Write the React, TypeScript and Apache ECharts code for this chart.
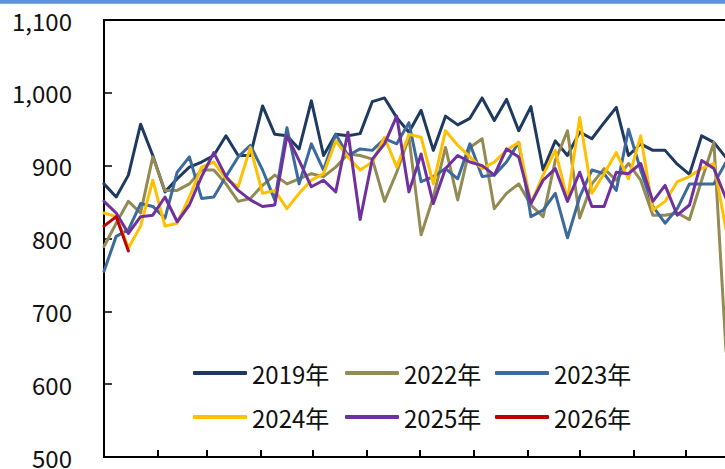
import React, { useEffect, useRef } from "react";
import * as echarts from "echarts";

// x position of each weekly observation, as day of the year (week 1 = Jan 1)
const WEEK_DAYS: number[] = Array.from({ length: 52 }, (_, i) => i * 7);
// first day of each month (ticks on the x axis)
const MONTH_START_DAYS = [31, 59, 90, 120, 151, 181, 212, 243, 273, 304, 334];

const Y_MIN = 500;
const Y_MAX = 1100;
const Y_STEP = 100;

const SERIES_NAMES = ["2019年", "2022年", "2023年", "2024年", "2025年", "2026年"];
const SERIES_COLORS = ["#1F3A60", "#948A54", "#3C6A9C", "#FFC000", "#7030A0", "#C00000"];

const V2019 = [875, 857, 887, 957, 914, 864, 882, 898, 905, 914, 941, 914, 914, 982, 943, 941, 923, 989, 914, 943, 941, 944, 988, 993, 966, 946, 976, 921, 968, 956, 965, 993, 962, 991, 948, 981, 894, 934, 914, 946, 937, 959, 980, 914, 930, 921, 921, 902, 888, 941, 932, 911];
const V2022 = [789, 821, 851, 835, 912, 866, 866, 875, 894, 894, 875, 851, 855, 873, 887, 875, 882, 889, 885, 898, 916, 914, 909, 851, 891, 939, 805, 857, 925, 853, 925, 937, 841, 862, 875, 846, 830, 907, 948, 828, 875, 896, 880, 903, 880, 832, 832, 835, 826, 880, 932, 645];
const V2023 = [755, 803, 812, 848, 844, 828, 891, 912, 855, 857, 885, 912, 928, 894, 853, 952, 875, 930, 894, 943, 914, 923, 921, 937, 930, 959, 878, 885, 896, 882, 930, 885, 887, 905, 932, 830, 839, 862, 801, 857, 894, 889, 866, 950, 894, 844, 821, 841, 875, 875, 875, 905];
const V2024 = [835, 830, 787, 817, 880, 817, 821, 857, 898, 905, 882, 871, 925, 862, 866, 841, 862, 880, 889, 934, 912, 894, 905, 939, 898, 943, 939, 875, 948, 928, 912, 896, 905, 921, 932, 848, 887, 921, 853, 966, 862, 889, 918, 882, 941, 839, 851, 878, 885, 896, 903, 812];
const V2025 = [851, 835, 807, 830, 832, 857, 823, 846, 885, 918, 885, 866, 853, 844, 846, 941, 907, 871, 880, 864, 946, 826, 909, 930, 968, 864, 916, 848, 896, 914, 905, 900, 887, 923, 912, 848, 880, 896, 851, 891, 844, 844, 891, 889, 903, 851, 873, 832, 846, 907, 896, 855];
const V2026 = [817, 830, 783];

const SERIES_VALUES = [V2019, V2022, V2023, V2024, V2025, V2026];

const FONT = "'Noto Sans CJK SC', 'Noto Sans', sans-serif";

export default function App() {
  const ref = useRef<HTMLDivElement>(null);

  useEffect(() => {
    document.body.style.margin = "0";
    const chart = echarts.init(ref.current!, null, { renderer: "svg" });

    const legendPos = [
      { left: 188, top: 354 },
      { left: 340, top: 354 },
      { left: 490, top: 354 },
      { left: 188, top: 398 },
      { left: 340, top: 398 },
      { left: 490, top: 398 },
    ];

    chart.setOption({
      animation: false,
      backgroundColor: "#ffffff",
      textStyle: { fontFamily: FONT },
      graphic: [
        {
          type: "rect",
          left: 0,
          top: 0,
          shape: { x: 0, y: 0, width: 760, height: 3.7 },
          style: { fill: "#5B93D6" },
          silent: true,
        },
      ],
      grid: {
        left: 104,
        top: 20,
        width: 636,
        height: 441,
        show: true,
        borderColor: "#000",
        borderWidth: 2,
        backgroundColor: "transparent",
      },
      legend: SERIES_NAMES.map((name, i) => ({
        show: true,
        data: [name],
        left: legendPos[i].left,
        top: legendPos[i].top,
        icon: "roundRect",
        itemWidth: 54,
        itemHeight: 4,
        itemGap: 0,
        selectedMode: false,
        textStyle: {
          fontSize: 24,
          color: "#111",
          fontFamily: FONT,
          lineHeight: 28,
        },
      })),
      xAxis: {
        type: "value",
        min: 0,
        max: 365,
        axisLine: { show: false },
        splitLine: { show: false },
        axisLabel: { show: false },
        axisTick: {
          show: true,
          inside: true,
          length: 7,
          customValues: MONTH_START_DAYS,
          lineStyle: { color: "#000", width: 2 },
        },
      },
      yAxis: {
        type: "value",
        min: Y_MIN,
        max: Y_MAX,
        interval: Y_STEP,
        axisLine: { show: false },
        splitLine: { show: false },
        axisTick: {
          show: true,
          inside: true,
          length: 8,
          lineStyle: { color: "#000", width: 1.5 },
        },
        axisLabel: {
          fontSize: 24,
          color: "#111",
          margin: 32,
          fontFamily: FONT,
          formatter: (v: number) => v.toLocaleString("en-US"),
        },
      },
      series: SERIES_NAMES.map((name, i) => ({
        name,
        type: "line",
        data: SERIES_VALUES[i].map((v, k) => [WEEK_DAYS[k], v]),
        showSymbol: false,
        symbol: "none",
        lineStyle: { color: SERIES_COLORS[i], width: 3, cap: "round", join: "round" },
        itemStyle: { color: SERIES_COLORS[i] },
        emphasis: { disabled: true },
        clip: true,
        z: 2 + i,
      })),
    });

    return () => chart.dispose();
  }, []);

  return (
    <div
      style={{
        position: "fixed",
        left: 0,
        top: 0,
        width: 725,
        height: 469,
        overflow: "hidden",
        background: "#fff",
      }}
    >
      <div ref={ref} style={{ width: 760, height: 469 }} />
    </div>
  );
}
